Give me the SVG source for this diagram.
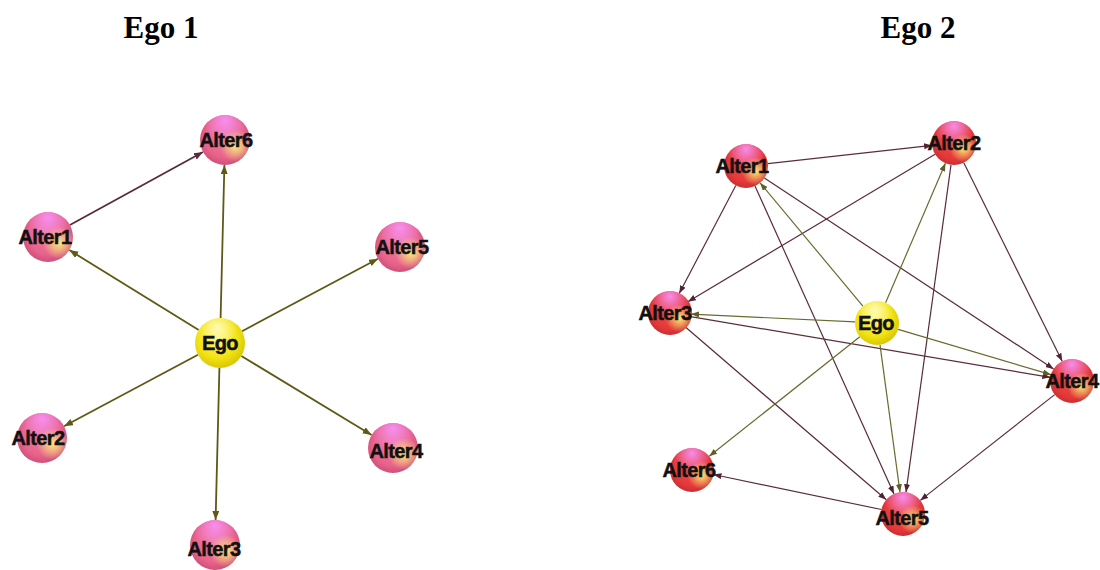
<svg xmlns="http://www.w3.org/2000/svg" width="1100" height="570" viewBox="0 0 1100 570">
<style>
.title{font-family:"Liberation Serif","Times New Roman",serif;font-weight:bold;font-size:31px;fill:#000;text-anchor:middle}
.lbl{font-family:"Liberation Sans",Arial,sans-serif;font-weight:bold;font-size:20px;fill:#111;stroke:#111;stroke-width:0.5px;text-anchor:middle;letter-spacing:-0.6px}
.e1o{stroke:#5e5a16;stroke-width:1.8;fill:none;marker-end:url(#arO1)}
.e1m{stroke:#5a2a3c;stroke-width:1.8;fill:none;marker-end:url(#arM1)}
.e2o{stroke:#6a6a30;stroke-width:1.2;fill:none;marker-end:url(#arO2)}
.e2m{stroke:#5a2c3c;stroke-width:1.2;fill:none;marker-end:url(#arM2)}
.pink{fill:url(#gPink)}
.red{fill:url(#gRed)}
.yel{fill:url(#gYel)}
.hiTop{fill:url(#gTop)}
.hiYel{fill:url(#gYHi)}
.hiW{fill:url(#gWHi)}
</style>
<defs>
<marker id="arO1" markerUnits="userSpaceOnUse" markerWidth="10" markerHeight="8" refX="9" refY="3.5" orient="auto"><path d="M0,0 L9,3.5 L0,7 z" fill="#5e5a16"/></marker>
<marker id="arM1" markerUnits="userSpaceOnUse" markerWidth="10" markerHeight="8" refX="9" refY="3.5" orient="auto"><path d="M0,0 L9,3.5 L0,7 z" fill="#5a2a3c"/></marker>
<marker id="arO2" markerUnits="userSpaceOnUse" markerWidth="9" markerHeight="7" refX="8" refY="3" orient="auto"><path d="M0,0 L8,3 L0,6 z" fill="#5e5e28"/></marker>
<marker id="arM2" markerUnits="userSpaceOnUse" markerWidth="9" markerHeight="7" refX="8" refY="3" orient="auto"><path d="M0,0 L8,3 L0,6 z" fill="#4e2434"/></marker>
<radialGradient id="gPink" cx="50%" cy="45%" r="60%">
<stop offset="0" stop-color="#f07ca0"/><stop offset="0.65" stop-color="#e8648c"/><stop offset="1" stop-color="#c84a74"/>
</radialGradient>
<radialGradient id="gRed" cx="50%" cy="45%" r="60%">
<stop offset="0" stop-color="#f04a48"/><stop offset="0.65" stop-color="#e63a3a"/><stop offset="1" stop-color="#c42a30"/>
</radialGradient>
<radialGradient id="gYel" cx="45%" cy="40%" r="65%">
<stop offset="0" stop-color="#fff46a"/><stop offset="0.6" stop-color="#f2e414"/><stop offset="1" stop-color="#d4bf00"/>
</radialGradient>
<radialGradient id="gTop" cx="50%" cy="12%" r="45%">
<stop offset="0" stop-color="#f890f4" stop-opacity="0.95"/><stop offset="1" stop-color="#f890f4" stop-opacity="0"/>
</radialGradient>
<radialGradient id="gYHi" cx="72%" cy="62%" r="32%">
<stop offset="0" stop-color="#faf07a" stop-opacity="0.95"/><stop offset="1" stop-color="#faf07a" stop-opacity="0"/>
</radialGradient>
<radialGradient id="gWHi" cx="45%" cy="20%" r="40%">
<stop offset="0" stop-color="#fffcc0" stop-opacity="0.9"/><stop offset="1" stop-color="#fffcc0" stop-opacity="0"/>
</radialGradient>
</defs>
<rect width="1100" height="570" fill="#fff"/>
<text class="title" x="161" y="38">Ego 1</text>
<text class="title" x="918" y="38">Ego 2</text>

<g id="connectors-ego1">
<line class="e1o" x1="198.7" y1="329.9" x2="69.3" y2="250.1"/>
<line class="e1o" x1="220.6" y1="318" x2="224.4" y2="165"/>
<line class="e1o" x1="242" y1="331.2" x2="378" y2="258.8"/>
<line class="e1o" x1="198" y1="354.8" x2="64" y2="426.2"/>
<line class="e1o" x1="241.4" y1="356" x2="371.6" y2="435"/>
<line class="e1o" x1="219.4" y1="368" x2="215.6" y2="520"/>
<line class="e1m" x1="69.9" y1="225" x2="203" y2="152"/>
</g>

<g id="connectors-ego2">
<line class="e2m" x1="767.9" y1="163.6" x2="932.1" y2="145.4"/>
<line class="e2m" x1="735.8" y1="185.5" x2="679.2" y2="293.5"/>
<line class="e2m" x1="935.1" y1="154.3" x2="687.9" y2="301.7"/>
<line class="e2m" x1="755" y1="186" x2="894" y2="494"/>
<line class="e2o" x1="862.9" y1="306.1" x2="760.1" y2="182.9"/>
<line class="e2m" x1="764.4" y1="178.1" x2="1053.6" y2="368.9"/>
<line class="e2m" x1="963.8" y1="162.7" x2="1062.2" y2="361.3"/>
<line class="e2m" x1="951" y1="164.8" x2="906" y2="492.2"/>
<line class="e2o" x1="885.6" y1="302.8" x2="945.4" y2="163.2"/>
<line class="e2o" x1="855" y1="321.9" x2="691" y2="314.1"/>
<line class="e2m" x1="690.7" y1="316.7" x2="1050.3" y2="377.3"/>
<line class="e2o" x1="898.1" y1="329.3" x2="1050.9" y2="374.7"/>
<line class="e2m" x1="685.7" y1="327.3" x2="886.3" y2="499.7"/>
<line class="e2o" x1="859.8" y1="336.7" x2="709.2" y2="456.3"/>
<line class="e2o" x1="880" y1="344.8" x2="900" y2="492.2"/>
<line class="e2m" x1="1054.7" y1="394.6" x2="920.3" y2="500.4"/>
<line class="e2m" x1="881.5" y1="509.5" x2="713.5" y2="474.5"/>
</g>

<g id="e1-ego"><circle class="yel" cx="220" cy="343" r="25"/><circle class="hiW" cx="220" cy="343" r="25"/><text class="lbl" x="220" y="350">Ego</text></g>
<g id="e1-alter1"><circle class="pink" cx="48" cy="237" r="25"/><circle class="hiTop" cx="48" cy="237" r="25"/><circle class="hiYel" cx="48" cy="237" r="25"/><text class="lbl" x="45" y="244">Alter1</text></g>
<g id="e1-alter2"><circle class="pink" cx="42" cy="438" r="25"/><circle class="hiTop" cx="42" cy="438" r="25"/><circle class="hiYel" cx="42" cy="438" r="25"/><text class="lbl" x="38" y="445">Alter2</text></g>
<g id="e1-alter3"><circle class="pink" cx="215" cy="545" r="25"/><circle class="hiTop" cx="215" cy="545" r="25"/><circle class="hiYel" cx="215" cy="545" r="25"/><text class="lbl" x="214" y="556">Alter3</text></g>
<g id="e1-alter4"><circle class="pink" cx="393" cy="448" r="25"/><circle class="hiTop" cx="393" cy="448" r="25"/><circle class="hiYel" cx="393" cy="448" r="25"/><text class="lbl" x="396" y="458">Alter4</text></g>
<g id="e1-alter5"><circle class="pink" cx="400" cy="247" r="25"/><circle class="hiTop" cx="400" cy="247" r="25"/><circle class="hiYel" cx="400" cy="247" r="25"/><text class="lbl" x="402" y="254">Alter5</text></g>
<g id="e1-alter6"><circle class="pink" cx="225" cy="140" r="25"/><circle class="hiTop" cx="225" cy="140" r="25"/><circle class="hiYel" cx="225" cy="140" r="25"/><text class="lbl" x="226" y="147">Alter6</text></g>

<g id="e2-ego"><circle class="yel" cx="877" cy="323" r="22"/><circle class="hiW" cx="877" cy="323" r="22"/><text class="lbl" x="876" y="330">Ego</text></g>
<g id="e2-alter1"><circle class="red" cx="746" cy="166" r="22"/><circle class="hiTop" cx="746" cy="166" r="22"/><circle class="hiYel" cx="746" cy="166" r="22"/><text class="lbl" x="742" y="173">Alter1</text></g>
<g id="e2-alter2"><circle class="red" cx="954" cy="143" r="22"/><circle class="hiTop" cx="954" cy="143" r="22"/><circle class="hiYel" cx="954" cy="143" r="22"/><text class="lbl" x="954" y="150">Alter2</text></g>
<g id="e2-alter3"><circle class="red" cx="670" cy="313" r="22"/><circle class="hiTop" cx="670" cy="313" r="22"/><circle class="hiYel" cx="670" cy="313" r="22"/><text class="lbl" x="665" y="320">Alter3</text></g>
<g id="e2-alter4"><circle class="red" cx="1072" cy="381" r="22"/><circle class="hiTop" cx="1072" cy="381" r="22"/><circle class="hiYel" cx="1072" cy="381" r="22"/><text class="lbl" x="1072" y="388">Alter4</text></g>
<g id="e2-alter5"><circle class="red" cx="903" cy="514" r="22"/><circle class="hiTop" cx="903" cy="514" r="22"/><circle class="hiYel" cx="903" cy="514" r="22"/><text class="lbl" x="902" y="525">Alter5</text></g>
<g id="e2-alter6"><circle class="red" cx="692" cy="470" r="22"/><circle class="hiTop" cx="692" cy="470" r="22"/><circle class="hiYel" cx="692" cy="470" r="22"/><text class="lbl" x="689" y="477">Alter6</text></g>
</svg>
